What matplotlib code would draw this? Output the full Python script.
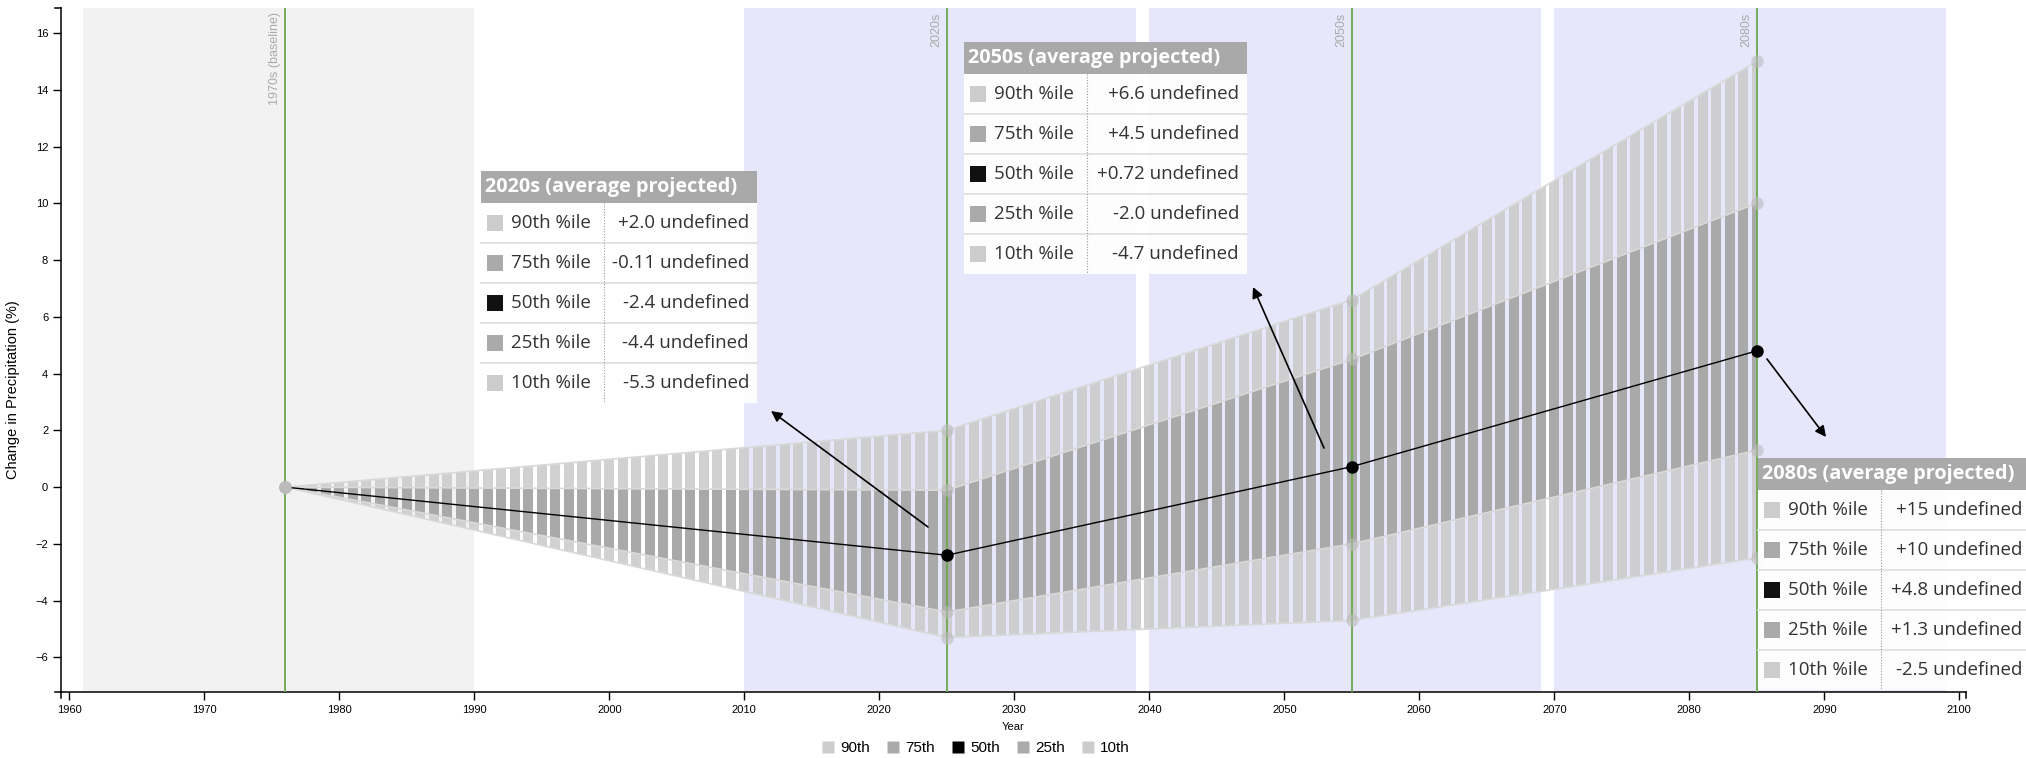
import numpy as np
import matplotlib.pyplot as plt
from matplotlib.patches import Rectangle, FancyArrowPatch
from matplotlib.lines import Line2D
from matplotlib.transforms import IdentityTransform

plt.rcParams['font.family'] = ['Liberation Sans', 'DejaVu Sans']

# percentile changes at the baseline and the three projection periods
decades = [1976, 2025, 2055, 2085]
p90 = [0, 2.0, 6.6, 15]
p75 = [0, -0.11, 4.5, 10]
p50 = [0, -2.4, 0.72, 4.8]
p25 = [0, -4.4, -2.0, 1.3]
p10 = [0, -5.3, -4.7, -2.5]

period_labels = ["1970s (baseline)", "2020s", "2050s", "2080s"]
baseline_span = (1961, 1990)
future_spans = [(2010, 2039), (2040, 2069), (2070, 2099)]

table_titles = ["2020s (average projected)", "2050s (average projected)", "2080s (average projected)"]
row_names = ["90th %ile", "75th %ile", "50th %ile", "25th %ile", "10th %ile"]
legend_labels = ["90th", "75th", "50th", "25th", "10th"]
swatch_colors = ['#cccccc', '#aaaaaa', '#111111', '#aaaaaa', '#cccccc']

W, H = 2026, 758
fig = plt.figure(figsize=(W / 100, H / 100), dpi=100)
ax_l, ax_r, ax_b, ax_t = 60.7, 1966, 65.7, 749.7
ax = fig.add_axes([ax_l / W, ax_b / H, (ax_r - ax_l) / W, (ax_t - ax_b) / H])

ymin, ymax = -7.23, 16.87
ax.set_xlim(1959.36, 2100.5)
ax.set_ylim(ymin, ymax)

# background periods
ax.axvspan(*baseline_span, color='#f2f2f2', lw=0, zorder=0)
for a, b in future_spans:
    ax.axvspan(a, b, color='#e7e7fb', lw=0, zorder=0)

# striped bands: one bar per year, clipped to the percentile envelopes
outer = ax.fill_between(decades, p10, p90, color='none', lw=0)
inner = ax.fill_between(decades, p25, p75, color='none', lw=0)
years = np.arange(decades[0], decades[-1] + 1)
light = ax.bar(years, ymax - ymin, bottom=ymin, width=0.72, color='#cccccc', alpha=0.9, zorder=2)
for r in light:
    r.set_clip_path(outer.get_paths()[0], ax.transData)
dark = ax.bar(years, ymax - ymin, bottom=ymin, width=0.72, color='#a9a9a9', zorder=2.5)
for r in dark:
    r.set_clip_path(inner.get_paths()[0], ax.transData)

for p in [p90, p75, p25, p10]:
    ax.plot(decades, p, color='#d9d9d9', lw=1.2, zorder=3)

# period markers
for d, lab in zip(decades, period_labels):
    ax.axvline(d, color='#6aa84f', lw=1.3, zorder=3.5)
    ax.annotate(lab, xy=(d, 1), xycoords=('data', 'axes fraction'), xytext=(-7.5, -3),
                textcoords='offset points', rotation=90, ha='center', va='top',
                color='#aaaaaa', fontsize=9)

for p in [p90, p75, p25, p10]:
    ax.plot(decades, p, 'o', color='#bbbbbb', alpha=0.6, ms=9, mec='none', zorder=4)
ax.plot(decades, p50, color='black', lw=1.0, zorder=5)
ax.plot(decades[:1], p50[:1], 'o', color='#bbbbbb', ms=9, mec='none', zorder=6)
ax.plot(decades[1:], p50[1:], 'o', color='black', ms=9, mec='none', zorder=6)

# axes styling
for s in ['top', 'right']:
    ax.spines[s].set_visible(False)
for s in ['left', 'bottom']:
    ax.spines[s].set_linewidth(1.1)
ax.set_xticks(range(1960, 2101, 10))
ax.set_yticks(range(-6, 17, 2))
ax.tick_params(length=6, width=1, labelsize=8, pad=3)
ax.set_xlabel('Year', fontsize=8)
ax.xaxis.set_label_coords(0.5, -0.043)
ax.set_ylabel('Change in Precipitation (%)', fontsize=10.5)
ax.yaxis.set_label_coords(-0.0215, 0.443)

px = IdentityTransform()
# outer ticks at the ends of both axes
for seg in [([ax_l - 6, ax_l], [ax_t, ax_t]), ([ax_l - 6, ax_l], [ax_b, ax_b]),
            ([ax_l, ax_l], [ax_b, ax_b - 6]), ([ax_r, ax_r], [ax_b, ax_b - 6])]:
    fig.add_artist(Line2D(seg[0], seg[1], color='black', lw=1.1, transform=px))


def fmt(v):
    return f"{v:+#.2g}".rstrip('.')


def draw_table(x0, top, width, title, vals):
    head_h, row_h = 32, 40
    fig.add_artist(Rectangle((x0, H - top - head_h), width, head_h, facecolor='#a9a9a9',
                             edgecolor='none', transform=px))
    fig.text(x0 + 4, H - top - head_h / 2, title, transform=px, color='white',
             fontweight='bold', fontsize=14.3, va='center', ha='left', family='Open Sans')
    body = top + head_h
    fig.add_artist(Rectangle((x0, H - body - 5 * row_h), width, 5 * row_h, facecolor='white',
                             alpha=0.92, edgecolor='none', transform=px))
    for i, (name, c, v) in enumerate(zip(row_names, swatch_colors, vals)):
        yc = H - body - (i + 0.5) * row_h
        fig.add_artist(Rectangle((x0 + 6, yc - 8), 16, 16, facecolor=c, edgecolor='none', transform=px))
        fig.text(x0 + 30, yc, name, transform=px, color='#333333', fontsize=13.5,
                 va='center', ha='left', family='Open Sans')
        fig.text(x0 + width - 8, yc, fmt(v) + " undefined", transform=px, color='#333333',
                 fontsize=13.5, va='center', ha='right', family='Open Sans')
        if i > 0:
            y = H - body - i * row_h
            fig.add_artist(Line2D([x0, x0 + width], [y, y], color='#dddddd', lw=1.2, transform=px))
    fig.add_artist(Line2D([x0 + 123, x0 + 123], [H - body, H - body - 5 * row_h], color='#999999',
                          lw=0.8, ls=(0, (1, 1.5)), transform=px))


tables = [(481, 171, 276), (964, 42, 283), (1758, 458, 272)]
for k, (x0, top, width) in enumerate(tables):
    i = k + 1
    draw_table(x0, top, width, table_titles[k], [p90[i], p75[i], p50[i], p25[i], p10[i]])

# arrows pointing from the median markers to their tables
arrows = [((928, 527), (771, 411)), ((1324, 448), (1253, 287)), ((1767, 359), (1826, 437))]
for (x1, y1), (x2, y2) in arrows:
    fig.add_artist(FancyArrowPatch((x1, H - y1), (x2, H - y2), transform=px, arrowstyle='-|>',
                                   mutation_scale=16, lw=1.2, color='black', shrinkA=0, shrinkB=0))

handles = [Line2D([], [], marker='s', ls='none', ms=8.6, color=c, mec='none') for c in swatch_colors]
handles[2] = Line2D([], [], marker='s', ls='none', ms=8.6, color='black', mec='none')
fig.legend(handles, legend_labels, loc='center', bbox_to_anchor=(975 / W, 10 / H), ncol=5,
           frameon=False, fontsize=11, handletextpad=0.3, columnspacing=1.0, handlelength=1,
           borderpad=0, borderaxespad=0)

fig.savefig('out.png', dpi=100)
